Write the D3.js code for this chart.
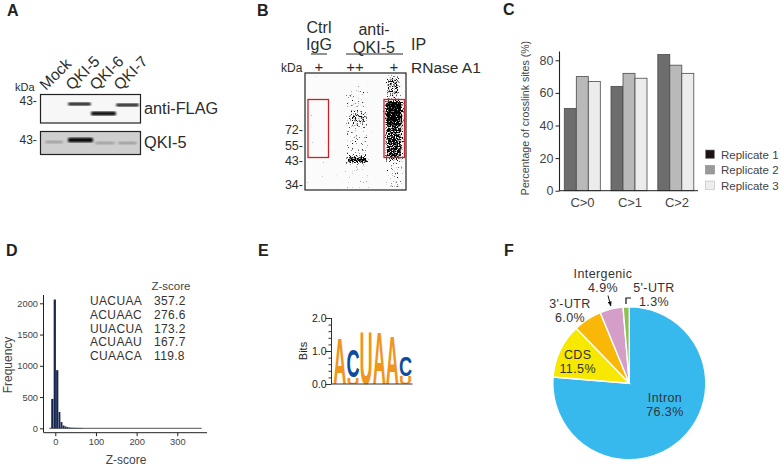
<!DOCTYPE html>
<html><head><meta charset="utf-8">
<script src="https://cdn.jsdelivr.net/npm/d3@7"></script>
<style>html,body{margin:0;background:#fff}svg{display:block}text{font-family:"Liberation Sans",Arial,sans-serif}</style>
</head><body><svg id="c" width="780" height="468"></svg>
<script>
// Panel A
const laneLabels = ["Mock","QKI-5","QKI-6","QKI-7"];
const flagBands = [[68,91,104,.97,3],[91,116,113.5,1,4],[116,139,105,.95,2.8]];
const qkiBands = [[45,63,142,.3,2],[68,93,140,1,4.5],[95,115,143,.3,2],[118,137,143,.32,2]];
// Panel B
const gelBlobs = [[310,100,326,150,.08],[345,90,368,157,.3],[350,112,366,124,.38],[347,157,368,163,1],[345,165,368,190,.22],
  [386,76,400,97,.62],[385,100,403,123,1],[385,123,403,160,.8],[385,160,403,190,.3]];
const gelTicks = [["72-",130],["55-",146],["43-",161],["34-",185]];
// Panel C
const thresholds = ["C>0","C>1","C>2"];
const rep1 = [50.5,64,83.5], rep2 = [70,72,77], rep3 = [67,69,72];
const replicates = ["Replicate 1","Replicate 2","Replicate 3"];
const barColors = ["#6d6d6d","#b9b9b9","#ececec"];
const swatchColors = ["#1d1513","#9a9a9a","#ededed"];
// Panel D
const histStart = [-10,-4,2,8,13,18,23,28,33,38,45,55,65];
const histCounts = [470,2060,930,260,100,45,30,18,12,9,7,6,5];
const motifs = ["UACUAA","ACUAAC","UUACUA","ACUAAU","CUAACA"];
const motifZ = ["357.2","276.6","173.2","167.7","119.8"];
// Panel E
const logoColumns = [[["A",0,1.39]],[["U",0,.2],["C",.2,1.03]],[["U",0,1.6]],[["A",0,1.6]],[["A",0,1.5]],[["U",0,.25],["C",.25,.85]]];
// Panel F
const regions = ["Intron","CDS","3'-UTR","Intergenic","5'-UTR"];
const regionPct = [76.3,11.5,6.0,4.9,1.3];
const regionColors = ["#38b9ee","#f7e800","#f9b707","#d49ec8","#8cc152"];

const svg = d3.select("#c");
const ink = "#2c2c2c";
function T(g,x,y,s,size,anchor,fill,weight){
  return g.append("text").attr("x",x).attr("y",y).text(s).attr("font-size",size)
    .attr("text-anchor",anchor||"start").attr("fill",fill||ink).attr("font-weight",weight||null);
}
const defs = svg.append("defs");
defs.append("filter").attr("id","b1").append("feGaussianBlur").attr("stdDeviation",.8);
const gf = defs.append("filter").attr("id","gel").attr("filterUnits","userSpaceOnUse")
  .attr("x",305).attr("y",73).attr("width",101).attr("height",117).attr("color-interpolation-filters","sRGB");
gf.append("feGaussianBlur").attr("in","SourceAlpha").attr("stdDeviation",2).attr("result","m");
gf.append("feTurbulence").attr("type","fractalNoise").attr("baseFrequency",.8).attr("numOctaves",2).attr("seed",4).attr("result","n");
gf.append("feColorMatrix").attr("in","n").attr("type","matrix")
  .attr("values","0 0 0 0 0  0 0 0 0 0  0 0 0 0 0  1 0 0 0 0").attr("result","sp");
gf.append("feComposite").attr("in","sp").attr("in2","m").attr("operator","arithmetic").attr("k1",0).attr("k2",6).attr("k3",3.6).attr("k4",-4.9);
gf.append("feGaussianBlur").attr("stdDeviation",.4);
defs.append("marker").attr("id","ah").attr("markerUnits","userSpaceOnUse").attr("markerWidth",5).attr("markerHeight",4).attr("refX",4.5).attr("refY",2).attr("orient","auto")
  .append("path").attr("d","M0,0L5,2L0,4Z").attr("fill","#111");

[["A",7,16],["B",257,16],["C",503,15],["D",6,256],["E",258,256],["F",504,256]].forEach(d=>T(svg,d[1],d[2],d[0],16,"start","#222","bold"));

// ---- A
const A = svg.append("g");
laneLabels.forEach((s,i)=>{
  A.append("text").text(s).attr("font-size",15.5).attr("fill",ink)
   .attr("transform",`translate(${[46,72,96,120][i]},91) rotate(-45)`);
});
T(A,15,91,"kDa",11);
T(A,19.5,105,"43-",12); T(A,19.5,144,"43-",12);
A.append("rect").attr("x",40.5).attr("y",94.5).attr("width",100).attr("height",28.5).attr("fill","#f7f7f7");
A.append("rect").attr("x",40.5).attr("y",131.5).attr("width",100).attr("height",23).attr("fill","#cfcfcf");
[flagBands,qkiBands].forEach(bands=>A.selectAll(null).data(bands).join("rect")
  .attr("x",d=>d[0]).attr("width",d=>d[1]-d[0]).attr("y",d=>d[2]-d[4]/2).attr("height",d=>d[4])
  .attr("rx",1.5).attr("fill","#000").attr("opacity",d=>d[3]).attr("filter","url(#b1)"));
A.selectAll(null).data([[94.5,28.5],[131.5,23]]).join("rect").attr("x",40.5).attr("y",d=>d[0]).attr("width",100).attr("height",d=>d[1])
  .attr("fill","none").attr("stroke","#222").attr("stroke-width",1.2);
T(A,144,114,"anti-FLAG",16.3); T(A,144,148,"QKI-5",16.3);

// ---- B
const B = svg.append("g");
T(B,319,33,"Ctrl",16,"middle"); T(B,319,50,"IgG",16,"middle");
T(B,374,35,"anti-",16,"middle"); T(B,374,53,"QKI-5",16,"middle");
T(B,411,50,"IP",16); T(B,411,73,"RNase A1",15.5);
B.append("path").attr("d","M311,54H327M346,54H403").attr("stroke","#222").attr("fill","none");
[[319,"+"],[355,"++"],[394,"+"]].forEach(d=>T(B,d[0],72,d[1],15,"middle"));
T(B,281,72,"kDa",12);
gelTicks.forEach(d=>T(B,303,d[1]+4,d[0],12.5,"end"));
B.append("rect").attr("x",305).attr("y",73).attr("width",101).attr("height",117).attr("fill","#fbfbfb");
B.append("g").attr("filter","url(#gel)").selectAll("rect").data(gelBlobs).join("rect")
  .attr("x",d=>d[0]).attr("y",d=>d[1]).attr("width",d=>d[2]-d[0]).attr("height",d=>d[3]-d[1]).attr("fill","#000").attr("fill-opacity",d=>d[4]);
B.append("rect").attr("x",305).attr("y",73).attr("width",101).attr("height",117).attr("fill","none").attr("stroke","#222").attr("stroke-width",1.2);
B.selectAll(null).data([308,384]).join("rect").attr("x",d=>d).attr("y",99.5).attr("width",20.5).attr("height",58)
  .attr("fill","none").attr("stroke","#c8222a").attr("stroke-width",1.3);

// ---- C
const yC = d3.scaleLinear().domain([0,80]).range([190.7,60.3]);
const x0C = d3.scaleBand().domain(thresholds).range([562,698.5]).paddingInner(0).paddingOuter(0);
const x1C = d3.scaleBand().domain([0,1,2]).range([2.3,38.3]);
const C = svg.append("g");
[rep1,rep2,rep3].forEach((vals,s)=>{
  C.selectAll(null).data(vals).join("rect")
   .attr("x",(d,i)=>x0C(thresholds[i])+x1C(s)+[0,1.2,2.5][i]).attr("width",x1C.bandwidth())
   .attr("y",d=>yC(d)).attr("height",d=>yC(0)-yC(d)).attr("fill",barColors[s]).attr("stroke","#4a4a4a").attr("stroke-width",.8);
});
const axC = C.append("g").attr("transform","translate(559.5,0)").call(d3.axisLeft(yC).tickValues([0,20,40,60,80]).tickSize(4).tickPadding(2));
axC.select(".domain").attr("d",`M0,${yC(0)}V51.5`).attr("stroke","#222").attr("stroke-width",1.1);
axC.selectAll("text").attr("font-size",12.5).attr("font-family",null).attr("fill","#444");
axC.selectAll("line").attr("stroke","#222");
C.append("path").attr("d",`M559,${yC(0)}H698`).attr("stroke","#222").attr("stroke-width",1);
thresholds.forEach((s,i)=>T(C,[582.5,630,677][i],207,s,13,"middle","#444"));
C.append("text").text("Percentage of crosslink sites (%)").attr("font-size",10.6).attr("fill","#444").attr("text-anchor","middle")
  .attr("transform","translate(529,118) rotate(-90)");
replicates.forEach((s,i)=>{
  C.append("rect").attr("x",705.5).attr("y",150+i*15.5).attr("width",9).attr("height",8.5).attr("fill",swatchColors[i]).attr("stroke",i==2?"#bbb":"#888").attr("stroke-width",.6);
  T(C,721,158.5+i*15.5,s,11.5,"start","#444");
});

// ---- D
const xD = d3.scaleLinear().domain([0,300]).range([55.3,177.3]);
const yD = d3.scaleLinear().domain([0,2000]).range([428.3,303.3]);
const D = svg.append("g");
D.append("path").attr("d",`M${xD(-15)},${yD(0)}H${xD(360)}`).attr("stroke","#777").attr("stroke-width",1.3);
D.selectAll(null).data(histCounts).join("rect")
  .attr("x",(d,i)=>xD(histStart[i])).attr("width",(d,i)=>xD(histStart[i+1]??70)-xD(histStart[i])-.2)
  .attr("y",d=>yD(d)).attr("height",d=>yD(0)-yD(d)).attr("fill","#16264f");
const axDy = D.append("g").attr("transform","translate(43.5,0)").call(d3.axisLeft(yD).tickValues([0,500,1000,1500,2000]).tickFormat(d3.format("d")).tickSize(3.5).tickPadding(2));
axDy.select(".domain").attr("d","M0,295V432.5").attr("stroke","#222");
axDy.selectAll("text").attr("font-size",9.3).attr("font-family",null).attr("fill","#444");
axDy.selectAll("line").attr("stroke","#222");
const axDx = D.append("g").attr("transform","translate(0,432.7)").call(d3.axisBottom(xD).tickValues([0,100,200,300]).tickSize(3.5).tickPadding(2));
axDx.select(".domain").attr("d","M43.5,0H207").attr("stroke","#222");
axDx.selectAll("text").attr("font-size",9.3).attr("font-family",null).attr("fill","#444");
axDx.selectAll("line").attr("stroke","#222");
T(D,126,464,"Z-score",12,"middle","#444");
D.append("text").text("Frequency").attr("font-size",12).attr("fill","#444").attr("text-anchor","middle").attr("transform","translate(12,365) rotate(-90)");
T(D,171,290,"Z-score",11.5,"middle","#444");
motifs.forEach((m,i)=>{
  const y=[305,319,333,346,360][i];
  T(D,90,y,m,12,"start","#333").attr("letter-spacing",.35);
  T(D,154,y,motifZ[i],12,"start","#333").attr("letter-spacing",.35);
});

// ---- E
const yE = d3.scaleLinear().domain([0,2]).range([384,318]);
const xE = d3.scaleBand().domain(d3.range(logoColumns.length)).range([333.3,412]);
const E = svg.append("g");
logoColumns.forEach((col,i)=>col.forEach(l=>{
  const t=E.append("text").text(l[0]).attr("font-size",40).attr("font-weight","bold").attr("font-family","Liberation Sans")
    .attr("fill",l[0]=="C"?"#0b4c9c":"#f0951e").attr("text-anchor","middle");
  const cap=40*.716, w=t.node().getComputedTextLength();
  const sx=xE.bandwidth()/w, sy=(yE(l[1])-yE(l[2]))/cap;
  t.attr("transform",`translate(${xE(i)+xE.bandwidth()/2},${yE(l[1])}) scale(${sx},${sy})`);
}));
const axE = E.append("g").attr("transform","translate(331.5,0)").call(d3.axisLeft(yE).tickValues(d3.range(0,2.01,.2)).tickSize(3).tickFormat(d=>Math.abs(d%1)<.001||Math.abs(d%1-1)<.001?d.toFixed(1):""));
axE.select(".domain").attr("d","M0,318V384").attr("stroke","#333");
axE.selectAll("line").attr("stroke","#333").attr("x2",(d)=>Math.abs(d%1)<.001||Math.abs(d%1-1)<.001?-6:-3);
axE.selectAll("text").attr("font-size",10.5).attr("font-family",null).attr("fill","#222").attr("x",-5);
E.append("path").attr("d","M331.5,384H412.5").attr("stroke","#333");
E.append("text").text("Bits").attr("font-size",11).attr("fill","#222").attr("text-anchor","middle").attr("transform","translate(307,351) rotate(-90)");

// ---- F
const F = svg.append("g").attr("transform","translate(629.3,383.3)");
const pie = d3.pie().sort(null).value(d=>d)(regionPct);
F.selectAll("path").data(pie).join("path").attr("d",d3.arc().innerRadius(0).outerRadius(76.5))
  .attr("fill",(d,i)=>regionColors[i]).attr("stroke","#fff").attr("stroke-width",1.4);
const pieLabels = [[665,401.7,416],[577.7,359,372.7],[570,307.7,321.7],[603,277.7,291.7],[654,292,305.7]];
regions.forEach((r,i)=>{
  const p=pieLabels[i];
  T(svg,p[0],p[1],r,12.5,"middle","#333").attr("letter-spacing",.4);
  T(svg,p[0],p[2],regionPct[i].toFixed(1)+"%",12.5,"middle","#333").attr("letter-spacing",.4);
});
svg.append("path").attr("d","M608,295.5L610.8,306").attr("stroke","#111").attr("fill","none").attr("marker-end","url(#ah)");
svg.append("path").attr("d","M626,304V298H631").attr("stroke","#111").attr("stroke-width",1.2).attr("fill","none");
</script></body></html>
